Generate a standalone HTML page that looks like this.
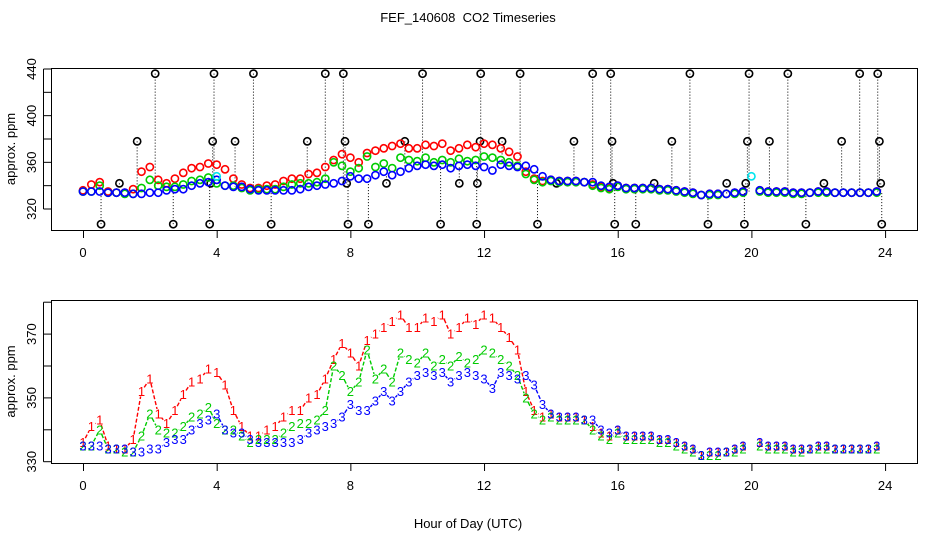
<!DOCTYPE html>
<html><head><meta charset="utf-8"><style>
body{margin:0;background:#fff}
svg{display:block;font-family:"Liberation Sans",sans-serif}
</style></head><body>
<svg id="c" width="936" height="540" viewBox="0 0 936 540">
<text x="468" y="22" text-anchor="middle" font-size="13" style="white-space:pre" xml:space="preserve">FEF_140608  CO2 Timeseries</text>
<text x="468" y="528" text-anchor="middle" font-size="13">Hour of Day (UTC)</text>
</svg>
<script>
// time step 0.25 h, 0..24
const red=[336,341,343,335,334,334,337,352,356,345,342,346,351,355,356,359,358,354,346,341,338,338,340,341,344,346,346,350,351,356,362,367,364,360,368,370,372,374,376,372,372,375,374,376,370,372,375,373,376,375,372,369,365,352,346,344,345,344,344,344,343,341,339,338,340,338,338,338,338,337,337,336,335,334,332,333,333,333,334,335,null,336,335,335,335,334,334,334,335,335,334,334,334,334,334,335,null];
const green=[335,335,340,334,334,333,333,338,345,340,339,339,341,344,345,347,342,340,340,338,336,337,337,337,339,341,342,342,343,346,360,357,352,355,365,356,359,355,364,362,361,364,360,362,360,363,361,362,365,364,362,360,357,350,345,343,344,343,343,343,343,340,338,337,339,337,337,337,337,336,336,335,334,333,332,332,332,333,333,334,null,335,334,334,334,333,333,334,334,334,334,334,334,334,334,334,null];
const blue=[335,335,335,334,334,334,333,333,334,334,336,337,337,340,342,343,345,340,339,339,337,336,336,336,336,336,337,339,340,341,342,344,348,346,346,349,352,349,352,355,357,358,357,358,355,357,358,357,356,353,358,357,356,357,354,348,345,344,344,344,343,343,340,339,340,338,338,338,338,337,337,336,335,334,332,333,333,333,334,335,null,336,335,335,335,334,334,334,335,335,334,334,334,334,334,335,null];
const outT=[0.54,1.09,1.62,2.16,2.7,3.79,3.82,3.88,3.92,4.55,5.1,5.63,6.71,7.25,7.79,7.84,7.89,7.93,8.54,9.08,9.63,10.16,10.7,11.26,11.78,11.8,11.88,11.9,12.54,13.08,13.6,14.17,14.69,15.25,15.79,15.83,15.86,15.91,16.54,17.09,17.62,18.16,18.7,19.26,19.79,19.83,19.88,19.93,20.54,21.09,21.63,22.17,22.7,23.24,23.78,23.83,23.87,23.9];
const outV=[307,342,378,436,307,307,342,378,436,378,436,307,378,436,436,378,342,307,307,342,378,436,307,342,307,342,378,436,378,436,307,342,378,436,436,378,342,307,307,342,378,436,307,342,307,342,378,436,378,436,307,342,378,436,436,378,342,307];
const cyanT=[4.0,20.0];
const cyanV=[348,348];
const xTicks=[0,4,8,12,16,20,24];
const topTicks=[320,340,360,380,400,420,440];
const topLabels=[320,360,400,440];
const botTicks=[330,340,350,360,370,380];
const botLabels=[330,350,370];

const NS='http://www.w3.org/2000/svg';
const svg=document.getElementById('c');
function mk(tag,attrs,parent){const e=document.createElementNS(NS,tag);for(const k in attrs)e.setAttribute(k,attrs[k]);(parent||svg).appendChild(e);return e;}
const X=t=>83+t*33.42;
const Ytop=v=>209-(v-320)*1.1667;
const Ybot=v=>461.7-(v-330)*3.19;
const tOf=i=>i*0.25;

function frame(y0,y1,name,Y,ticks,labels){
  const g=mk('g',{});
  
  
  const r=mk('rect',{x:51.5,y:y0+.5,width:866,height:y1-y0,fill:'none',stroke:'#000'},g);
  
  
  mk('line',{x1:X(0),x2:X(24),y1:y1+.5,y2:y1+.5,stroke:'#000'},g);
  xTicks.forEach(t=>{
    mk('line',{x1:X(t)+.5,x2:X(t)+.5,y1:y1,y2:y1+8,stroke:'#000'},g);
    const tx=mk('text',{x:X(t),y:y1+27,'text-anchor':'middle','font-size':13},g);
    tx.textContent=t;
    
    
  });
  const lo=ticks[0],hi=ticks[ticks.length-1];
  mk('line',{x1:43.5,x2:43.5,y1:Y(lo),y2:Y(hi),stroke:'#000'},g);
  ticks.forEach(v=>mk('line',{x1:43.5,x2:51,y1:Y(v),y2:Y(v),stroke:'#000'},g));
  labels.forEach(v=>{
    const tx=mk('text',{x:0,y:0,'text-anchor':'middle','font-size':13,transform:`translate(36,${Y(v)}) rotate(-90)`},g);
    tx.textContent=v;
    
    
  });
  const yt=mk('text',{x:0,y:0,'text-anchor':'middle','font-size':13,transform:`translate(15,${(y0+y1)/2}) rotate(-90)`},g);
  yt.textContent='approx. ppm';
  
  
}
frame(68,230,'top-panel',Ytop,topTicks,topLabels);
frame(300,463,'bottom-panel',Ybot,botTicks,botLabels);

const og=mk('g',{});


outT.forEach((t,i)=>{
  const idx=Math.min(96,Math.round(t/0.25));
  const base=blue[idx]!=null?blue[idx]:335;
  mk('line',{x1:X(t),x2:X(t),y1:Ytop(outV[i]),y2:Ytop(base),stroke:'#000','stroke-dasharray':'1,2','stroke-width':1},og);
});
[[red,'#ff0000','red'],[green,'#00cc00','green'],[blue,'#0000ff','blue']].forEach(([arr,col,n])=>{
  const g=mk('g',{});
  
  
  arr.forEach((v,i)=>{ if(v==null)return;
    const c=mk('circle',{cx:X(tOf(i)),cy:Ytop(v),r:3.6,fill:'none',stroke:col,'stroke-width':1.6},g);
    
    
  });
});
cyanT.forEach((t,i)=>{
  const c=mk('circle',{cx:X(t),cy:Ytop(cyanV[i]),r:3.6,fill:'none',stroke:'#00e5ee','stroke-width':1.6});
  
  
});
outT.forEach((t,i)=>{
  const c=mk('circle',{cx:X(t),cy:Ytop(outV[i]),r:3.6,fill:'none',stroke:'#000','stroke-width':1.6},og);
  
  
});

[[red,'#ff0000','red','1'],[green,'#00cc00','green','2'],[blue,'#0000ff','blue','3']].forEach(([arr,col,n,lab])=>{
  const g=mk('g',{});
  
  
  for(let i=0;i<arr.length-1;i++){
    if(arr[i]==null||arr[i+1]==null)continue;
    const x1=X(tOf(i)),y1=Ybot(arr[i]),x2=X(tOf(i+1)),y2=Ybot(arr[i+1]);
    const dx=x2-x1,dy=y2-y1,L=Math.hypot(dx,dy),g0=5;
    if(L<=2*g0)continue;
    mk('line',{x1:x1+dx*g0/L,y1:y1+dy*g0/L,x2:x2-dx*g0/L,y2:y2-dy*g0/L,stroke:col,'stroke-width':1.4,'stroke-dasharray':'4,2'},g);
  }
  arr.forEach((v,i)=>{ if(v==null)return;
    const t=mk('text',{x:X(tOf(i)),y:Ybot(v)+4.5,'text-anchor':'middle','font-size':13,fill:col},g);
    t.textContent=lab;
    
    
  });
});
</script>
</body></html>
